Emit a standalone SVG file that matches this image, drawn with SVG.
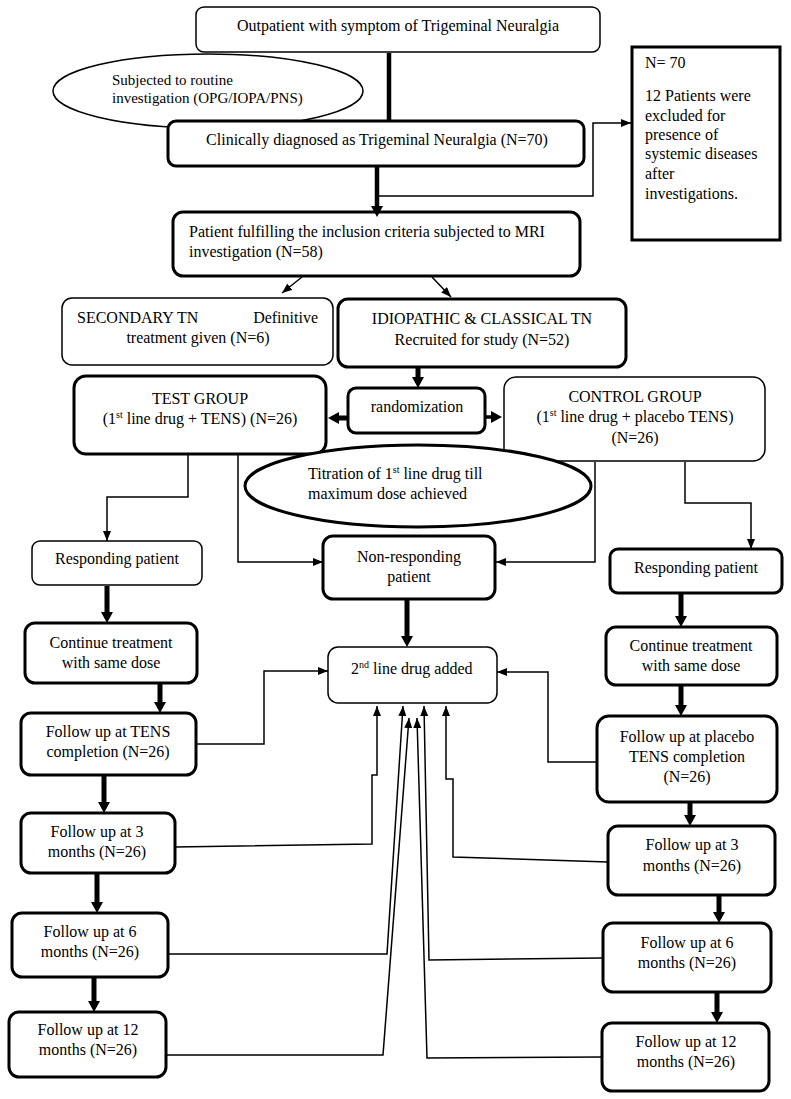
<svg xmlns="http://www.w3.org/2000/svg" width="791" height="1099" viewBox="0 0 791 1099">
<defs>
<marker id="a" markerUnits="userSpaceOnUse" markerWidth="10" markerHeight="8" refX="10" refY="4" orient="auto"><path d="M0,0 L10,4 L0,8 z" fill="#000"/></marker>
<marker id="b" markerUnits="userSpaceOnUse" markerWidth="11" markerHeight="12" refX="6" refY="6" orient="auto"><path d="M0,0 L11,6 L0,12 z" fill="#000"/></marker>
</defs>
<style>
text{font-family:"Liberation Serif","Times New Roman",serif;font-size:16px;fill:#000}
.c{text-anchor:middle}
.e{text-anchor:end}
.n1{fill:#fff;stroke:#000;stroke-width:1.5}
.n2{fill:#fff;stroke:#000;stroke-width:3}
.t{fill:none;stroke:#000;stroke-width:1.5}
.k{fill:none;stroke:#000;stroke-width:5}
.sm{font-size:15px}
</style>
<rect width="791" height="1099" fill="#fff"/>

<g id="subjected">
<ellipse class="n1" cx="208" cy="91" rx="155" ry="37"/>
<text class="sm" x="112" y="85">Subjected to routine</text>
<text class="sm" x="112" y="103">investigation (OPG/IOPA/PNS)</text>
</g>
<g id="outpatient">
<rect class="n1" x="196" y="7" width="404" height="45" rx="8"/>
<text class="c" x="398" y="31">Outpatient with symptom of Trigeminal Neuralgia</text>
</g>
<g id="clinically">
<rect class="n2" x="168" y="121" width="416" height="45" rx="8"/>
<text class="c" x="377" y="145">Clinically diagnosed as Trigeminal Neuralgia (N=70)</text>
</g>
<g id="excluded">
<rect class="n2" x="632" y="47" width="148" height="193"/>
<text x="645" y="68">N= 70</text>
<text x="645" y="101">12 Patients were</text>
<text x="645" y="121">excluded for</text>
<text x="645" y="140">presence of</text>
<text x="645" y="159">systemic diseases</text>
<text x="645" y="179">after</text>
<text x="645" y="199">investigations.</text>
</g>
<g id="mri">
<rect class="n2" x="173" y="212" width="407" height="64" rx="10"/>
<text x="189" y="237">Patient fulfilling the inclusion criteria subjected to MRI</text>
<text x="189" y="257">investigation (N=58)</text>
</g>
<g id="secondary">
<rect class="n1" x="62" y="298" width="271" height="67" rx="10"/>
<text x="77" y="323">SECONDARY TN</text>
<text class="e" x="318" y="323">Definitive</text>
<text class="c" x="198" y="343">treatment given (N=6)</text>
</g>
<g id="idiopathic">
<rect class="n2" x="338" y="299" width="288" height="68" rx="10"/>
<text class="c" x="482" y="324">IDIOPATHIC &amp; CLASSICAL TN</text>
<text class="c" x="482" y="345">Recruited for study (N=52)</text>
</g>
<g id="randomization">
<rect class="n2" x="348" y="388" width="137" height="45" rx="8"/>
<text class="c" x="417" y="412">randomization</text>
</g>
<g id="test">
<rect class="n2" x="74" y="376" width="252" height="78" rx="12"/>
<text class="c" x="200" y="404">TEST GROUP</text>
<text class="c" x="200" y="424">(1<tspan dy="-6" font-size="10">st</tspan><tspan dy="6"> line drug + TENS) (N=26)</tspan></text>
</g>
<g id="control">
<rect class="n1" x="504" y="377" width="261" height="84" rx="12"/>
<text class="c" x="635" y="402">CONTROL GROUP</text>
<text class="c" x="635" y="422">(1<tspan dy="-6" font-size="10">st</tspan><tspan dy="6"> line drug + placebo TENS)</tspan></text>
<text class="c" x="635" y="443">(N=26)</text>
</g>
<g id="titration">
<ellipse class="n2" cx="418" cy="486" rx="173" ry="41"/>
<text x="308" y="479">Titration of 1<tspan dy="-6" font-size="10">st</tspan><tspan dy="6"> line drug till</tspan></text>
<text x="308" y="499">maximum dose achieved</text>
</g>
<g id="resp-left">
<rect class="n1" x="32" y="541" width="170" height="44" rx="8"/>
<text class="c" x="117" y="564">Responding patient</text>
</g>
<g id="nonresp">
<rect class="n2" x="323" y="536" width="172" height="63" rx="10"/>
<text class="c" x="409" y="562">Non-responding</text>
<text class="c" x="409" y="582">patient</text>
</g>
<g id="cont-left">
<rect class="n2" x="25" y="623" width="172" height="60" rx="10"/>
<text class="c" x="111" y="648">Continue treatment</text>
<text class="c" x="111" y="668">with same dose</text>
</g>
<g id="fu-tens">
<rect class="n2" x="21" y="713" width="175" height="62" rx="10"/>
<text class="c" x="108" y="737">Follow up at TENS</text>
<text class="c" x="108" y="757">completion (N=26)</text>
</g>
<g id="second-line">
<rect class="n1" x="328" y="647" width="169" height="56" rx="10"/>
<text x="351" y="674">2<tspan dy="-6" font-size="10">nd</tspan><tspan dy="6"> line drug added</tspan></text>
</g>
<g id="fu3-left">
<rect class="n2" x="21" y="813" width="154" height="60" rx="10"/>
<text class="c" x="97" y="837">Follow up at 3</text>
<text class="c" x="97" y="857">months (N=26)</text>
</g>
<g id="fu6-left">
<rect class="n2" x="12" y="913" width="156" height="64" rx="10"/>
<text class="c" x="90" y="937">Follow up at 6</text>
<text class="c" x="90" y="957">months (N=26)</text>
</g>
<g id="fu12-left">
<rect class="n2" x="9" y="1012" width="157" height="65" rx="10"/>
<text class="c" x="88" y="1035">Follow up at 12</text>
<text class="c" x="88" y="1055">months (N=26)</text>
</g>
<g id="resp-right">
<rect class="n2" x="610" y="549" width="172" height="44" rx="8"/>
<text class="c" x="696" y="573">Responding patient</text>
</g>
<g id="cont-right">
<rect class="n2" x="606" y="627" width="171" height="58" rx="10"/>
<text class="c" x="691" y="651">Continue treatment</text>
<text class="c" x="691" y="671">with same dose</text>
</g>
<g id="fu-placebo">
<rect class="n2" x="597" y="716" width="180" height="86" rx="12"/>
<text class="c" x="687" y="742">Follow up at placebo</text>
<text class="c" x="687" y="762">TENS completion</text>
<text class="c" x="687" y="782">(N=26)</text>
</g>
<g id="fu3-right">
<rect class="n2" x="608" y="826" width="167" height="69" rx="10"/>
<text class="c" x="692" y="850">Follow up at 3</text>
<text class="c" x="692" y="871">months (N=26)</text>
</g>
<g id="fu6-right">
<rect class="n2" x="603" y="923" width="168" height="69" rx="10"/>
<text class="c" x="687" y="948">Follow up at 6</text>
<text class="c" x="687" y="968">months (N=26)</text>
</g>
<g id="fu12-right">
<rect class="n2" x="602" y="1023" width="167" height="68" rx="10"/>
<text class="c" x="686" y="1047">Follow up at 12</text>
<text class="c" x="686" y="1067">months (N=26)</text>
</g>

<g id="connectors">
<line x1="389" y1="53" x2="389" y2="120" stroke="#000" stroke-width="4.5"/>
<line x1="377" y1="167" x2="377" y2="212" stroke="#000" stroke-width="4.5" marker-end="url(#b)"/>
<polyline class="t" points="377,196 593,196 593,123 631,123" marker-end="url(#a)"/>
<line class="t" x1="302" y1="277" x2="282" y2="293" stroke-width="2" marker-end="url(#a)"/>
<line class="t" x1="432" y1="277" x2="451" y2="297" stroke-width="2" marker-end="url(#a)"/>
<line class="k" x1="418" y1="368" x2="418" y2="383" marker-end="url(#b)"/>
<line class="k" x1="348" y1="418" x2="333" y2="418" marker-end="url(#b)"/>
<line x1="485" y1="417" x2="497" y2="417" stroke="#000" stroke-width="3.5" marker-end="url(#b)"/>
<polyline class="t" points="188,455 188,497 107,497 107,541" marker-end="url(#a)"/>
<polyline class="t" points="238,455 238,562 323,562" marker-end="url(#a)"/>
<polyline class="t" points="595,462 595,562 496,562" marker-end="url(#a)"/>
<polyline class="t" points="685,462 685,503 751,503 751,549" marker-end="url(#a)"/>
<line class="k" x1="107" y1="586" x2="107" y2="618" marker-end="url(#b)"/>
<line class="k" x1="160" y1="684" x2="160" y2="708" marker-end="url(#b)"/>
<line class="k" x1="104" y1="776" x2="104" y2="808" marker-end="url(#b)"/>
<line class="k" x1="97" y1="874" x2="97" y2="908" marker-end="url(#b)"/>
<line class="k" x1="94" y1="978" x2="94" y2="1007" marker-end="url(#b)"/>
<line class="k" x1="681" y1="594" x2="681" y2="622" marker-end="url(#b)"/>
<line class="k" x1="681" y1="686" x2="681" y2="711" marker-end="url(#b)"/>
<line class="k" x1="690" y1="803" x2="690" y2="821" marker-end="url(#b)"/>
<line class="k" x1="719" y1="896" x2="719" y2="918" marker-end="url(#b)"/>
<line class="k" x1="717" y1="993" x2="717" y2="1018" marker-end="url(#b)"/>
<line class="k" x1="407" y1="600" x2="407" y2="642" marker-end="url(#b)"/>
<polyline class="t" points="196,744 264,744 264,671 328,671" marker-end="url(#a)"/>
<polyline class="t" points="597,762 548,762 548,672 497,672" marker-end="url(#a)"/>
<polyline class="t" points="175,847 372,844 372,775 377,775 377,706" marker-end="url(#a)"/>
<polyline class="t" points="168,954 387,954 403,706" marker-end="url(#a)"/>
<polyline class="t" points="166,1055 383,1055 409,718" marker-end="url(#a)"/>
<polyline class="t" points="608,862 453,857 453,779 446,779 446,706" marker-end="url(#a)"/>
<polyline class="t" points="603,958 429,960 424,706" marker-end="url(#a)"/>
<polyline class="t" points="602,1057 427,1058 417,718" marker-end="url(#a)"/>
</g>
</svg>
